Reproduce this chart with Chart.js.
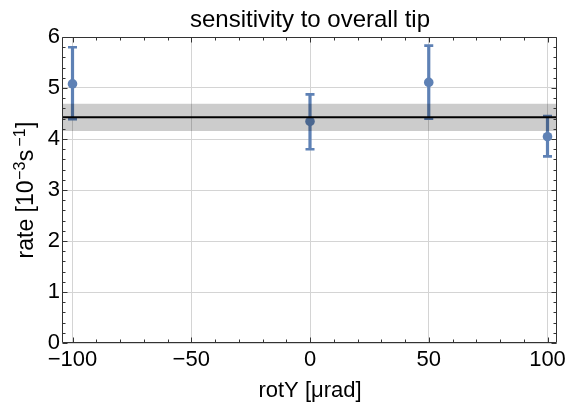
<!DOCTYPE html>
<html>
<head>
<meta charset="utf-8">
<script src="https://cdn.jsdelivr.net/npm/chart.js@4/dist/chart.umd.min.js"></script>
<style>
html,body{margin:0;padding:0;background:#fff;}
#wrap{width:568px;height:405px;}
</style>
</head>
<body>
<div id="wrap"><canvas id="c" width="568" height="405"></canvas></div>
<script>
// ---- data ----
const rotY = [-100, 0, 50, 100];
const rate = [5.08, 4.345, 5.11, 4.045];
const rateLow = [4.39, 3.80, 4.40, 3.66];
const rateHigh = [5.80, 4.875, 5.83, 4.45];
const meanRate = 4.425;
const meanLow = 4.157;
const meanHigh = 4.69;
const xTicks = [-100, -50, 0, 50, 100];
const yTicks = [0, 1, 2, 3, 4, 5, 6];
const xRange = [-104, 104];
const yRange = [0, 6];
const titleText = 'sensitivity to overall tip';
const xTitle = 'rotY [μrad]';
// y title pieces: [text, isSuperscript]
const yTitleParts = [['rate [10', false], ['\u22123', true], ['s', false], ['\u22121', true], [']', false]];

const BLUE = '#5E81B5';
const FONT = "'Liberation Sans', Arial, Helvetica, sans-serif";

const errorBars = {
  id: 'errorBars',
  beforeDatasetDraw(chart, args) {
    if (args.index !== 3) return;
    const {ctx, scales: {x, y}} = chart;
    ctx.save();
    ctx.strokeStyle = BLUE;
    ctx.lineCap = 'butt';
    rotY.forEach((v, i) => {
      const px = x.getPixelForValue(v);
      const yl = y.getPixelForValue(rateLow[i]);
      const yh = y.getPixelForValue(rateHigh[i]);
      ctx.lineWidth = 3.2;
      ctx.beginPath();
      ctx.moveTo(px, yl); ctx.lineTo(px, yh);
      ctx.stroke();
      ctx.lineWidth = 2.6;
      ctx.beginPath();
      ctx.moveTo(px - 4.5, yl); ctx.lineTo(px + 4.5, yl);
      ctx.moveTo(px - 4.5, yh); ctx.lineTo(px + 4.5, yh);
      ctx.stroke();
    });
    ctx.restore();
  }
};

const texts = {
  id: 'texts',
  afterDraw(chart) {
    const {ctx, chartArea: a} = chart;
    ctx.save();
    ctx.fillStyle = '#000';
    // title centred over the plot frame
    ctx.font = '24px ' + FONT;
    ctx.textAlign = 'center';
    ctx.textBaseline = 'alphabetic';
    ctx.fillText(titleText, (a.left + a.right) / 2, 27);
    // rotated y-axis title with superscripts
    const mainFont = '23px ' + FONT, supFont = '16px ' + FONT;
    const gaps = [0, 0.5, 0.5, 3, 0.5];
    let total = 0;
    const widths = yTitleParts.map(([t, sup], i) => {
      ctx.font = sup ? supFont : mainFont;
      const w = ctx.measureText(t).width;
      total += w + gaps[i];
      return w;
    });
    ctx.translate(33, (a.top + a.bottom) / 2 + total / 2);
    ctx.rotate(-Math.PI / 2);
    ctx.textAlign = 'left';
    let pos = 0;
    yTitleParts.forEach(([t, sup], i) => {
      pos += gaps[i];
      ctx.font = sup ? supFont : mainFont;
      ctx.fillText(t, pos, sup ? -8.5 : 0);
      pos += widths[i];
    });
    ctx.restore();
  }
};

const frameAndTicks = {
  id: 'frameAndTicks',
  afterDraw(chart) {
    const {ctx, chartArea: a, scales: {x, y}} = chart;
    const L = Math.round(a.left) - 0.5, R = Math.round(a.right) - 0.5;
    const T = Math.round(a.top) + 0.5, B = Math.round(a.bottom) - 0.5;
    ctx.save();
    ctx.strokeStyle = '#333';
    ctx.lineWidth = 1;
    ctx.beginPath();
    ctx.rect(L, T, R - L, B - T);
    const majorLen = 5, minorLen = 3;
    for (let k = Math.ceil(xRange[0] / 10); k <= Math.floor(xRange[1] / 10); k++) {
      const v = k * 10;
      const len = (v % 50 === 0) ? majorLen : minorLen;
      const px = Math.round(x.getPixelForValue(v)) + 0.5;
      ctx.moveTo(px, B); ctx.lineTo(px, B - len);
      ctx.moveTo(px, T); ctx.lineTo(px, T + len);
    }
    for (let k = 0; k <= 30; k++) {
      const v = k * 0.2;
      const len = (k % 5 === 0) ? majorLen : minorLen;
      const py = Math.round(y.getPixelForValue(v)) + 0.5;
      ctx.moveTo(L, py); ctx.lineTo(L + len, py);
      ctx.moveTo(R, py); ctx.lineTo(R - len, py);
    }
    ctx.stroke();
    ctx.restore();
  }
};

const fmt = v => (v < 0 ? '\u2212' + Math.abs(v) : String(v));

new Chart(document.getElementById('c'), {
  type: 'scatter',
  data: {
    datasets: [
      {
        label: 'band high',
        data: [{x: xRange[0], y: meanHigh}, {x: xRange[1], y: meanHigh}],
        showLine: true, borderWidth: 0, pointRadius: 0,
        borderColor: 'rgba(0,0,0,0)',
        backgroundColor: 'rgba(0,0,0,0.2)',
        fill: '+1', order: 2
      },
      {
        label: 'band low',
        data: [{x: xRange[0], y: meanLow}, {x: xRange[1], y: meanLow}],
        showLine: true, borderWidth: 0, pointRadius: 0,
        borderColor: 'rgba(0,0,0,0)', fill: false, order: 2
      },
      {
        label: 'mean',
        data: [{x: xRange[0], y: meanRate}, {x: xRange[1], y: meanRate}],
        showLine: true, borderWidth: 2, borderColor: '#000', pointRadius: 0,
        fill: false, order: 1
      },
      {
        label: 'rate',
        data: rotY.map((v, i) => ({x: v, y: rate[i]})),
        pointRadius: 4.8, pointBackgroundColor: BLUE, pointBorderWidth: 0,
        borderColor: BLUE, backgroundColor: BLUE, order: 3
      }
    ]
  },
  options: {
    responsive: false,
    animation: false,
    devicePixelRatio: 1,
    layout: {padding: {left: 0, right: 11, top: 37, bottom: 0}},
    plugins: {
      legend: {display: false},
      tooltip: {enabled: false},
      title: {display: false}
    },
    scales: {
      x: {
        type: 'linear', min: xRange[0], max: xRange[1],
        afterBuildTicks: s => { s.ticks = xTicks.map(v => ({value: v})); },
        afterFit: s => { s.height = 62; s.paddingLeft = 0; s.paddingRight = 0; },
        ticks: {
          color: '#000', padding: 4, maxRotation: 0, autoSkip: false,
          font: {family: FONT, size: 22, lineHeight: 1.2},
          callback: v => fmt(v)
        },
        grid: {color: '#d4d4d4', lineWidth: 1, drawTicks: false},
        border: {display: false},
        title: {
          display: true, text: xTitle, color: '#000',
          font: {family: FONT, size: 22, lineHeight: 1.2},
          padding: {top: 0, bottom: 1}
        }
      },
      y: {
        type: 'linear', min: yRange[0], max: yRange[1],
        afterBuildTicks: s => { s.ticks = yTicks.map(v => ({value: v})); },
        afterFit: s => { s.width = 63; s.paddingTop = 0; s.paddingBottom = 0; },
        ticks: {
          color: '#000', padding: 3,
          font: {family: FONT, size: 22, lineHeight: 1.2},
          callback: v => fmt(v)
        },
        grid: {color: '#d4d4d4', lineWidth: 1, drawTicks: false},
        border: {display: false},
        title: {display: false}
      }
    }
  },
  plugins: [errorBars, frameAndTicks, texts]
});
</script>
</body>
</html>
